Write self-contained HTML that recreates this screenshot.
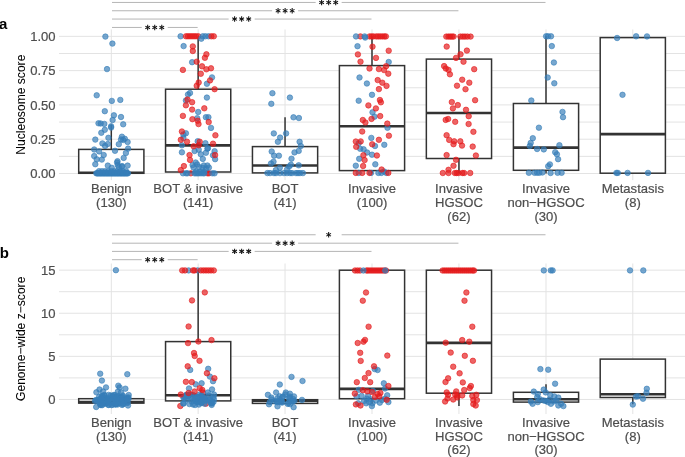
<!DOCTYPE html>
<html><head><meta charset="utf-8"><style>
html,body{margin:0;padding:0;background:#fff;}
body{width:685px;height:457px;overflow:hidden;position:relative;font-family:"Liberation Sans", sans-serif;}
svg text{font-family:"Liberation Sans", sans-serif;}
</style></head><body>
<svg width="685" height="457" viewBox="0 0 685 457" style="position:absolute;left:0;top:0;will-change:transform">
<line x1="59" y1="156.36" x2="685" y2="156.36" stroke="#e3e3e3" stroke-width="1"/>
<line x1="59" y1="122.07" x2="685" y2="122.07" stroke="#e3e3e3" stroke-width="1"/>
<line x1="59" y1="87.78" x2="685" y2="87.78" stroke="#e3e3e3" stroke-width="1"/>
<line x1="59" y1="53.49" x2="685" y2="53.49" stroke="#e3e3e3" stroke-width="1"/>
<line x1="59" y1="173.50" x2="685" y2="173.50" stroke="#e3e3e3" stroke-width="1"/>
<line x1="59" y1="139.21" x2="685" y2="139.21" stroke="#e3e3e3" stroke-width="1"/>
<line x1="59" y1="104.92" x2="685" y2="104.92" stroke="#e3e3e3" stroke-width="1"/>
<line x1="59" y1="70.64" x2="685" y2="70.64" stroke="#e3e3e3" stroke-width="1"/>
<line x1="59" y1="36.35" x2="685" y2="36.35" stroke="#e3e3e3" stroke-width="1"/>
<line x1="111.3" y1="29.45" x2="111.3" y2="180.15" stroke="#e3e3e3" stroke-width="1"/>
<line x1="198.15" y1="29.45" x2="198.15" y2="180.15" stroke="#e3e3e3" stroke-width="1"/>
<line x1="285.05" y1="29.45" x2="285.05" y2="180.15" stroke="#e3e3e3" stroke-width="1"/>
<line x1="372.0" y1="29.45" x2="372.0" y2="180.15" stroke="#e3e3e3" stroke-width="1"/>
<line x1="458.95" y1="29.45" x2="458.95" y2="180.15" stroke="#e3e3e3" stroke-width="1"/>
<line x1="546.0" y1="29.45" x2="546.0" y2="180.15" stroke="#e3e3e3" stroke-width="1"/>
<line x1="632.8" y1="29.45" x2="632.8" y2="180.15" stroke="#e3e3e3" stroke-width="1"/>
<text transform="translate(55.60,178.10) scale(1,1.04)" text-anchor="end" fill="#4d4d4d" stroke="#4d4d4d" stroke-width="0.2" font-size="13.05">0.00</text>
<text transform="translate(55.60,143.81) scale(1,1.04)" text-anchor="end" fill="#4d4d4d" stroke="#4d4d4d" stroke-width="0.2" font-size="13.05">0.25</text>
<text transform="translate(55.60,109.52) scale(1,1.04)" text-anchor="end" fill="#4d4d4d" stroke="#4d4d4d" stroke-width="0.2" font-size="13.05">0.50</text>
<text transform="translate(55.60,75.24) scale(1,1.04)" text-anchor="end" fill="#4d4d4d" stroke="#4d4d4d" stroke-width="0.2" font-size="13.05">0.75</text>
<text transform="translate(55.60,40.95) scale(1,1.04)" text-anchor="end" fill="#4d4d4d" stroke="#4d4d4d" stroke-width="0.2" font-size="13.05">1.00</text>
<line x1="111.3" y1="124.5" x2="111.3" y2="149.4" stroke="#333333" stroke-width="1.5"/>
<rect x="78.70" y="149.4" width="65.2" height="23.90" fill="#fff" stroke="#333333" stroke-width="1.5"/>
<line x1="78.70" y1="172.8" x2="143.90" y2="172.8" stroke="#333333" stroke-width="2.6"/>
<line x1="198.15" y1="36.35" x2="198.15" y2="89.2" stroke="#333333" stroke-width="1.5"/>
<line x1="198.15" y1="172.0" x2="198.15" y2="173.5" stroke="#333333" stroke-width="1.5"/>
<rect x="165.55" y="89.2" width="65.2" height="82.80" fill="#fff" stroke="#333333" stroke-width="1.5"/>
<line x1="165.55" y1="145.4" x2="230.75" y2="145.4" stroke="#333333" stroke-width="2.6"/>
<line x1="285.05" y1="117.2" x2="285.05" y2="146.6" stroke="#333333" stroke-width="1.5"/>
<line x1="285.05" y1="172.9" x2="285.05" y2="173.5" stroke="#333333" stroke-width="1.5"/>
<rect x="252.45" y="146.6" width="65.2" height="26.30" fill="#fff" stroke="#333333" stroke-width="1.5"/>
<line x1="252.45" y1="165.5" x2="317.65" y2="165.5" stroke="#333333" stroke-width="2.6"/>
<line x1="372.0" y1="36.35" x2="372.0" y2="65.6" stroke="#333333" stroke-width="1.5"/>
<line x1="372.0" y1="170.6" x2="372.0" y2="173.5" stroke="#333333" stroke-width="1.5"/>
<rect x="339.40" y="65.6" width="65.2" height="105.00" fill="#fff" stroke="#333333" stroke-width="1.5"/>
<line x1="339.40" y1="126.2" x2="404.60" y2="126.2" stroke="#333333" stroke-width="2.6"/>
<line x1="458.95" y1="36.35" x2="458.95" y2="59.1" stroke="#333333" stroke-width="1.5"/>
<line x1="458.95" y1="158.5" x2="458.95" y2="173.5" stroke="#333333" stroke-width="1.5"/>
<rect x="426.35" y="59.1" width="65.2" height="99.40" fill="#fff" stroke="#333333" stroke-width="1.5"/>
<line x1="426.35" y1="113.0" x2="491.55" y2="113.0" stroke="#333333" stroke-width="2.6"/>
<line x1="546.0" y1="36.35" x2="546.0" y2="103.5" stroke="#333333" stroke-width="1.5"/>
<line x1="546.0" y1="170.3" x2="546.0" y2="173.5" stroke="#333333" stroke-width="1.5"/>
<rect x="513.40" y="103.5" width="65.2" height="66.80" fill="#fff" stroke="#333333" stroke-width="1.5"/>
<line x1="513.40" y1="147.6" x2="578.60" y2="147.6" stroke="#333333" stroke-width="2.6"/>
<rect x="600.20" y="37.6" width="65.2" height="135.60" fill="#fff" stroke="#333333" stroke-width="1.5"/>
<line x1="600.20" y1="134.1" x2="665.40" y2="134.1" stroke="#333333" stroke-width="2.6"/>
<g fill="#e41a1c" fill-opacity="0.68" stroke="#e41a1c" stroke-opacity="0.68" stroke-width="0.9"><circle cx="190.8" cy="173.3" r="2.75"/><circle cx="207.5" cy="173.3" r="2.75"/><circle cx="209.0" cy="173.3" r="2.75"/></g>
<g fill="#377eb8" fill-opacity="0.68" stroke="#377eb8" stroke-opacity="0.68" stroke-width="0.9"><circle cx="105.4" cy="36.6" r="2.75"/><circle cx="112.4" cy="43.6" r="2.75"/><circle cx="107.0" cy="69.1" r="2.75"/><circle cx="96.7" cy="95.3" r="2.75"/><circle cx="111.8" cy="100.9" r="2.75"/><circle cx="120.3" cy="99.9" r="2.75"/><circle cx="104.8" cy="111.2" r="2.75"/><circle cx="113.9" cy="115.3" r="2.75"/><circle cx="121.0" cy="117.0" r="2.75"/><circle cx="112.6" cy="120.0" r="2.75"/><circle cx="98.5" cy="123.3" r="2.75"/><circle cx="100.7" cy="123.5" r="2.75"/><circle cx="104.3" cy="123.9" r="2.75"/><circle cx="123.2" cy="124.3" r="2.75"/><circle cx="111.1" cy="126.3" r="2.75"/><circle cx="111.1" cy="127.6" r="2.75"/><circle cx="104.8" cy="129.8" r="2.75"/><circle cx="101.3" cy="132.8" r="2.75"/><circle cx="108.4" cy="137.8" r="2.75"/><circle cx="95.3" cy="139.6" r="2.75"/><circle cx="121.9" cy="136.7" r="2.75"/><circle cx="121.0" cy="139.4" r="2.75"/><circle cx="123.2" cy="140.0" r="2.75"/><circle cx="124.8" cy="138.8" r="2.75"/><circle cx="127.6" cy="142.0" r="2.75"/><circle cx="118.8" cy="144.2" r="2.75"/><circle cx="102.4" cy="143.4" r="2.75"/><circle cx="105.1" cy="145.9" r="2.75"/><circle cx="107.8" cy="144.0" r="2.75"/><circle cx="94.2" cy="149.5" r="2.75"/><circle cx="99.1" cy="151.4" r="2.75"/><circle cx="115.0" cy="150.8" r="2.75"/><circle cx="128.1" cy="148.6" r="2.75"/><circle cx="125.9" cy="153.0" r="2.75"/><circle cx="94.2" cy="156.1" r="2.75"/><circle cx="103.7" cy="155.0" r="2.75"/><circle cx="96.7" cy="159.3" r="2.75"/><circle cx="101.8" cy="159.6" r="2.75"/><circle cx="123.7" cy="157.9" r="2.75"/><circle cx="117.5" cy="161.2" r="2.75"/><circle cx="95.3" cy="164.2" r="2.75"/><circle cx="107.8" cy="165.6" r="2.75"/><circle cx="111.7" cy="167.8" r="2.75"/><circle cx="117.7" cy="165.0" r="2.75"/><circle cx="122.1" cy="166.1" r="2.75"/><circle cx="127.6" cy="165.6" r="2.75"/><circle cx="118.8" cy="167.2" r="2.75"/><circle cx="117.1" cy="162.6" r="2.75"/><circle cx="121.9" cy="166.8" r="2.75"/><circle cx="96.3" cy="173.3" r="2.75"/><circle cx="97.1" cy="173.3" r="2.75"/><circle cx="97.8" cy="173.3" r="2.75"/><circle cx="98.6" cy="173.3" r="2.75"/><circle cx="99.4" cy="173.3" r="2.75"/><circle cx="100.2" cy="173.3" r="2.75"/><circle cx="100.9" cy="173.3" r="2.75"/><circle cx="101.7" cy="173.3" r="2.75"/><circle cx="102.5" cy="173.3" r="2.75"/><circle cx="103.3" cy="173.3" r="2.75"/><circle cx="104.0" cy="173.3" r="2.75"/><circle cx="104.8" cy="173.3" r="2.75"/><circle cx="105.6" cy="173.3" r="2.75"/><circle cx="106.4" cy="173.3" r="2.75"/><circle cx="107.1" cy="173.3" r="2.75"/><circle cx="107.9" cy="173.3" r="2.75"/><circle cx="108.7" cy="173.3" r="2.75"/><circle cx="109.4" cy="173.3" r="2.75"/><circle cx="110.2" cy="173.3" r="2.75"/><circle cx="111.0" cy="173.3" r="2.75"/><circle cx="111.8" cy="173.3" r="2.75"/><circle cx="112.5" cy="173.3" r="2.75"/><circle cx="113.3" cy="173.3" r="2.75"/><circle cx="114.1" cy="173.3" r="2.75"/><circle cx="114.9" cy="173.3" r="2.75"/><circle cx="115.6" cy="173.3" r="2.75"/><circle cx="116.4" cy="173.3" r="2.75"/><circle cx="117.2" cy="173.3" r="2.75"/><circle cx="117.9" cy="173.3" r="2.75"/><circle cx="118.7" cy="173.3" r="2.75"/><circle cx="119.5" cy="173.3" r="2.75"/><circle cx="120.3" cy="173.3" r="2.75"/><circle cx="121.0" cy="173.3" r="2.75"/><circle cx="121.8" cy="173.3" r="2.75"/><circle cx="122.6" cy="173.3" r="2.75"/><circle cx="123.4" cy="173.3" r="2.75"/><circle cx="124.1" cy="173.3" r="2.75"/><circle cx="124.9" cy="173.3" r="2.75"/><circle cx="125.7" cy="173.3" r="2.75"/><circle cx="126.5" cy="173.3" r="2.75"/><circle cx="127.2" cy="173.3" r="2.75"/><circle cx="128.0" cy="173.3" r="2.75"/><circle cx="99.0" cy="171.2" r="2.75"/><circle cx="102.0" cy="171.2" r="2.75"/><circle cx="105.0" cy="171.2" r="2.75"/><circle cx="108.0" cy="171.2" r="2.75"/><circle cx="111.0" cy="171.2" r="2.75"/><circle cx="114.0" cy="171.2" r="2.75"/><circle cx="117.0" cy="171.2" r="2.75"/><circle cx="120.0" cy="171.2" r="2.75"/><circle cx="123.0" cy="171.2" r="2.75"/><circle cx="126.0" cy="171.2" r="2.75"/><circle cx="180.6" cy="36.3" r="2.75"/><circle cx="208.5" cy="36.3" r="2.75"/><circle cx="183.6" cy="46.1" r="2.75"/><circle cx="192.1" cy="62.2" r="2.75"/><circle cx="212.0" cy="77.4" r="2.75"/><circle cx="206.9" cy="83.8" r="2.75"/><circle cx="190.0" cy="93.0" r="2.75"/><circle cx="188.0" cy="94.5" r="2.75"/><circle cx="206.9" cy="97.6" r="2.75"/><circle cx="185.9" cy="100.5" r="2.75"/><circle cx="198.2" cy="112.0" r="2.75"/><circle cx="197.2" cy="118.2" r="2.75"/><circle cx="205.9" cy="117.2" r="2.75"/><circle cx="208.4" cy="117.2" r="2.75"/><circle cx="211.0" cy="127.9" r="2.75"/><circle cx="185.9" cy="133.3" r="2.75"/><circle cx="183.4" cy="134.5" r="2.75"/><circle cx="183.4" cy="138.1" r="2.75"/><circle cx="181.9" cy="145.3" r="2.75"/><circle cx="197.7" cy="141.2" r="2.75"/><circle cx="205.4" cy="143.2" r="2.75"/><circle cx="207.9" cy="148.3" r="2.75"/><circle cx="181.9" cy="152.3" r="2.75"/><circle cx="194.6" cy="151.0" r="2.75"/><circle cx="198.7" cy="149.7" r="2.75"/><circle cx="207.4" cy="148.7" r="2.75"/><circle cx="205.9" cy="152.8" r="2.75"/><circle cx="200.8" cy="154.3" r="2.75"/><circle cx="214.6" cy="151.2" r="2.75"/><circle cx="213.0" cy="155.3" r="2.75"/><circle cx="215.1" cy="159.2" r="2.75"/><circle cx="202.8" cy="158.9" r="2.75"/><circle cx="195.7" cy="162.5" r="2.75"/><circle cx="192.6" cy="165.0" r="2.75"/><circle cx="197.2" cy="164.5" r="2.75"/><circle cx="203.8" cy="165.5" r="2.75"/><circle cx="207.4" cy="165.5" r="2.75"/><circle cx="208.9" cy="167.6" r="2.75"/><circle cx="183" cy="173.3" r="2.75"/><circle cx="186" cy="173.3" r="2.75"/><circle cx="187.5" cy="173.3" r="2.75"/><circle cx="194.5" cy="173.3" r="2.75"/><circle cx="196" cy="173.3" r="2.75"/><circle cx="197.5" cy="173.3" r="2.75"/><circle cx="199" cy="173.3" r="2.75"/><circle cx="201" cy="173.3" r="2.75"/><circle cx="203" cy="173.3" r="2.75"/><circle cx="204.3" cy="173.3" r="2.75"/><circle cx="212.3" cy="173.3" r="2.75"/><circle cx="214.5" cy="173.3" r="2.75"/><circle cx="196" cy="171.5" r="2.75"/><circle cx="200" cy="171.8" r="2.75"/><circle cx="204" cy="171.5" r="2.75"/><circle cx="193.5" cy="167.5" r="2.75"/><circle cx="199" cy="167.0" r="2.75"/><circle cx="202.5" cy="167.8" r="2.75"/><circle cx="206" cy="168.5" r="2.75"/><circle cx="272.4" cy="93.2" r="2.75"/><circle cx="289.9" cy="97.6" r="2.75"/><circle cx="271.3" cy="103.8" r="2.75"/><circle cx="293.5" cy="117.3" r="2.75"/><circle cx="298.9" cy="118.0" r="2.75"/><circle cx="273.8" cy="133.4" r="2.75"/><circle cx="286.1" cy="133.4" r="2.75"/><circle cx="280.1" cy="137.6" r="2.75"/><circle cx="277.9" cy="141.8" r="2.75"/><circle cx="299.6" cy="141.8" r="2.75"/><circle cx="300.8" cy="146.0" r="2.75"/><circle cx="271.7" cy="151.5" r="2.75"/><circle cx="298.7" cy="150.9" r="2.75"/><circle cx="294.5" cy="152.4" r="2.75"/><circle cx="274.1" cy="155.7" r="2.75"/><circle cx="278.9" cy="155.7" r="2.75"/><circle cx="291.5" cy="158.7" r="2.75"/><circle cx="273.5" cy="161.7" r="2.75"/><circle cx="271.0" cy="163.5" r="2.75"/><circle cx="290.9" cy="164.7" r="2.75"/><circle cx="289.1" cy="166.5" r="2.75"/><circle cx="298.7" cy="165.3" r="2.75"/><circle cx="279.8" cy="167.7" r="2.75"/><circle cx="275.9" cy="170.1" r="2.75"/><circle cx="287" cy="169.5" r="2.75"/><circle cx="267.4" cy="173.1" r="2.75"/><circle cx="270" cy="173.1" r="2.75"/><circle cx="274" cy="173.1" r="2.75"/><circle cx="276" cy="173.1" r="2.75"/><circle cx="280" cy="173.1" r="2.75"/><circle cx="284" cy="173.1" r="2.75"/><circle cx="287" cy="173.1" r="2.75"/><circle cx="290" cy="173.1" r="2.75"/><circle cx="292" cy="173.1" r="2.75"/><circle cx="296" cy="173.1" r="2.75"/><circle cx="298" cy="173.1" r="2.75"/><circle cx="300" cy="173.1" r="2.75"/><circle cx="302.9" cy="173.1" r="2.75"/><circle cx="357.5" cy="46.2" r="2.75"/><circle cx="388.7" cy="62.0" r="2.75"/><circle cx="359.5" cy="77.5" r="2.75"/><circle cx="366.9" cy="83.5" r="2.75"/><circle cx="372.0" cy="94.8" r="2.75"/><circle cx="358.7" cy="100.7" r="2.75"/><circle cx="372.5" cy="112.3" r="2.75"/><circle cx="374.5" cy="116.7" r="2.75"/><circle cx="387.5" cy="127.8" r="2.75"/><circle cx="371.3" cy="137.9" r="2.75"/><circle cx="358.7" cy="143.3" r="2.75"/><circle cx="384.3" cy="144.8" r="2.75"/><circle cx="375.0" cy="146.0" r="2.75"/><circle cx="360.2" cy="148.8" r="2.75"/><circle cx="363.6" cy="149.3" r="2.75"/><circle cx="367.1" cy="152.5" r="2.75"/><circle cx="372.0" cy="154.7" r="2.75"/><circle cx="359.2" cy="158.8" r="2.75"/><circle cx="355.8" cy="165.7" r="2.75"/><circle cx="375.3" cy="164.3" r="2.75"/><circle cx="358.7" cy="172.9" r="2.75"/><circle cx="371.0" cy="172.9" r="2.75"/><circle cx="378.4" cy="172.9" r="2.75"/><circle cx="381.4" cy="172.9" r="2.75"/><circle cx="386.3" cy="172.9" r="2.75"/><circle cx="384" cy="171.5" r="2.75"/><circle cx="546.1" cy="36.3" r="2.75"/><circle cx="548.0" cy="36.3" r="2.75"/><circle cx="551.0" cy="36.3" r="2.75"/><circle cx="551.8" cy="46.1" r="2.75"/><circle cx="553.9" cy="62.5" r="2.75"/><circle cx="547.7" cy="77.5" r="2.75"/><circle cx="554.3" cy="83.3" r="2.75"/><circle cx="531.3" cy="100.5" r="2.75"/><circle cx="562.5" cy="111.9" r="2.75"/><circle cx="563.0" cy="117.2" r="2.75"/><circle cx="538.9" cy="127.7" r="2.75"/><circle cx="532.8" cy="138.2" r="2.75"/><circle cx="530.7" cy="142.9" r="2.75"/><circle cx="529.8" cy="145.9" r="2.75"/><circle cx="559.4" cy="145.2" r="2.75"/><circle cx="537.1" cy="149.0" r="2.75"/><circle cx="543.8" cy="149.4" r="2.75"/><circle cx="555.2" cy="152.2" r="2.75"/><circle cx="556.9" cy="154.3" r="2.75"/><circle cx="558.1" cy="159.2" r="2.75"/><circle cx="549.9" cy="164.4" r="2.75"/><circle cx="548.2" cy="166.2" r="2.75"/><circle cx="528.9" cy="172.8" r="2.75"/><circle cx="534.5" cy="172.8" r="2.75"/><circle cx="537.1" cy="172.8" r="2.75"/><circle cx="539.4" cy="172.8" r="2.75"/><circle cx="542.4" cy="172.5" r="2.75"/><circle cx="550.6" cy="173.0" r="2.75"/><circle cx="557.6" cy="172.8" r="2.75"/><circle cx="561.6" cy="172.8" r="2.75"/><circle cx="617.1" cy="38.0" r="2.75"/><circle cx="636.1" cy="36.3" r="2.75"/><circle cx="647.0" cy="36.4" r="2.75"/><circle cx="622.5" cy="94.8" r="2.75"/><circle cx="616.4" cy="172.9" r="2.75"/><circle cx="617.8" cy="172.9" r="2.75"/><circle cx="627.6" cy="172.9" r="2.75"/><circle cx="648.0" cy="172.9" r="2.75"/></g>
<g fill="#e41a1c" fill-opacity="0.68" stroke="#e41a1c" stroke-opacity="0.68" stroke-width="0.9"><circle cx="186" cy="36.3" r="2.75"/><circle cx="188" cy="36.3" r="2.75"/><circle cx="190" cy="36.3" r="2.75"/><circle cx="192" cy="36.3" r="2.75"/><circle cx="194" cy="36.3" r="2.75"/><circle cx="196" cy="36.3" r="2.75"/><circle cx="198.3" cy="36.3" r="2.75"/><circle cx="211.3" cy="36.3" r="2.75"/><circle cx="213.8" cy="36.3" r="2.75"/><circle cx="192.8" cy="46.4" r="2.75"/><circle cx="192.8" cy="51.0" r="2.75"/><circle cx="206.4" cy="54.3" r="2.75"/><circle cx="204.9" cy="57.8" r="2.75"/><circle cx="196.7" cy="61.7" r="2.75"/><circle cx="182.9" cy="69.9" r="2.75"/><circle cx="202.0" cy="66.3" r="2.75"/><circle cx="206.4" cy="69.3" r="2.75"/><circle cx="211.0" cy="68.3" r="2.75"/><circle cx="200.8" cy="73.8" r="2.75"/><circle cx="210.0" cy="80.4" r="2.75"/><circle cx="198.7" cy="82.5" r="2.75"/><circle cx="196.7" cy="85.8" r="2.75"/><circle cx="214.6" cy="89.2" r="2.75"/><circle cx="187.5" cy="99.6" r="2.75"/><circle cx="192.1" cy="102.2" r="2.75"/><circle cx="185.9" cy="105.3" r="2.75"/><circle cx="192.1" cy="109.6" r="2.75"/><circle cx="204.3" cy="108.3" r="2.75"/><circle cx="182.9" cy="115.9" r="2.75"/><circle cx="192.4" cy="119.2" r="2.75"/><circle cx="198.5" cy="124.1" r="2.75"/><circle cx="197.7" cy="120.7" r="2.75"/><circle cx="208.7" cy="122.1" r="2.75"/><circle cx="181.9" cy="131.5" r="2.75"/><circle cx="215.4" cy="135.3" r="2.75"/><circle cx="180.8" cy="139.8" r="2.75"/><circle cx="187.0" cy="141.7" r="2.75"/><circle cx="199.7" cy="141.7" r="2.75"/><circle cx="198.7" cy="145.3" r="2.75"/><circle cx="193.6" cy="146.3" r="2.75"/><circle cx="213.0" cy="143.7" r="2.75"/><circle cx="215.1" cy="155.1" r="2.75"/><circle cx="189.5" cy="155.1" r="2.75"/><circle cx="190.0" cy="159.9" r="2.75"/><circle cx="183.9" cy="166.1" r="2.75"/><circle cx="180.8" cy="170.1" r="2.75"/><circle cx="360.4" cy="36.4" r="2.75"/><circle cx="369.6" cy="36.4" r="2.75"/><circle cx="371.6" cy="36.4" r="2.75"/><circle cx="373.4" cy="36.4" r="2.75"/><circle cx="376.2" cy="36.4" r="2.75"/><circle cx="378.2" cy="36.4" r="2.75"/><circle cx="380.2" cy="36.4" r="2.75"/><circle cx="382.3" cy="36.4" r="2.75"/><circle cx="384.3" cy="36.4" r="2.75"/><circle cx="385.9" cy="36.4" r="2.75"/><circle cx="372.5" cy="46.7" r="2.75"/><circle cx="388.7" cy="50.7" r="2.75"/><circle cx="357.9" cy="54.4" r="2.75"/><circle cx="376.0" cy="57.9" r="2.75"/><circle cx="360.5" cy="61.7" r="2.75"/><circle cx="386.1" cy="66.2" r="2.75"/><circle cx="369.5" cy="68.5" r="2.75"/><circle cx="378.9" cy="69.1" r="2.75"/><circle cx="384.1" cy="70.1" r="2.75"/><circle cx="388.3" cy="73.7" r="2.75"/><circle cx="377.7" cy="80.1" r="2.75"/><circle cx="382.3" cy="82.7" r="2.75"/><circle cx="386.5" cy="85.9" r="2.75"/><circle cx="378.9" cy="89.1" r="2.75"/><circle cx="379.9" cy="100.0" r="2.75"/><circle cx="380.9" cy="102.3" r="2.75"/><circle cx="368.4" cy="105.4" r="2.75"/><circle cx="375.9" cy="108.4" r="2.75"/><circle cx="380.2" cy="116.1" r="2.75"/><circle cx="371.5" cy="118.9" r="2.75"/><circle cx="362.8" cy="120.0" r="2.75"/><circle cx="365.4" cy="122.5" r="2.75"/><circle cx="387.3" cy="123.6" r="2.75"/><circle cx="362.2" cy="131.5" r="2.75"/><circle cx="388.9" cy="135.7" r="2.75"/><circle cx="378.9" cy="139.8" r="2.75"/><circle cx="355.8" cy="141.5" r="2.75"/><circle cx="360.7" cy="141.4" r="2.75"/><circle cx="372.2" cy="144.3" r="2.75"/><circle cx="356.2" cy="146.8" r="2.75"/><circle cx="363.4" cy="155.2" r="2.75"/><circle cx="376.9" cy="155.5" r="2.75"/><circle cx="364.6" cy="160.1" r="2.75"/><circle cx="363.1" cy="166.0" r="2.75"/><circle cx="381.6" cy="169.5" r="2.75"/><circle cx="355.8" cy="172.9" r="2.75"/><circle cx="362.2" cy="172.9" r="2.75"/><circle cx="369.5" cy="172.9" r="2.75"/><circle cx="388.3" cy="172.9" r="2.75"/><circle cx="446.3" cy="36.6" r="2.75"/><circle cx="448.5" cy="36.6" r="2.75"/><circle cx="450.3" cy="36.6" r="2.75"/><circle cx="452.0" cy="36.6" r="2.75"/><circle cx="453.6" cy="36.6" r="2.75"/><circle cx="460.4" cy="36.6" r="2.75"/><circle cx="462.8" cy="36.6" r="2.75"/><circle cx="465.0" cy="36.6" r="2.75"/><circle cx="467.5" cy="36.6" r="2.75"/><circle cx="470.6" cy="36.6" r="2.75"/><circle cx="446.7" cy="46.6" r="2.75"/><circle cx="466.9" cy="50.6" r="2.75"/><circle cx="460.5" cy="54.3" r="2.75"/><circle cx="456.0" cy="57.9" r="2.75"/><circle cx="463.5" cy="61.7" r="2.75"/><circle cx="444.1" cy="66.1" r="2.75"/><circle cx="445.8" cy="68.5" r="2.75"/><circle cx="448.5" cy="69.9" r="2.75"/><circle cx="449.9" cy="74.3" r="2.75"/><circle cx="474.2" cy="69.2" r="2.75"/><circle cx="462.2" cy="79.7" r="2.75"/><circle cx="469.3" cy="82.7" r="2.75"/><circle cx="457.0" cy="85.7" r="2.75"/><circle cx="465.5" cy="89.2" r="2.75"/><circle cx="475.1" cy="100.2" r="2.75"/><circle cx="451.8" cy="102.1" r="2.75"/><circle cx="457.8" cy="105.1" r="2.75"/><circle cx="452.9" cy="108.4" r="2.75"/><circle cx="466.0" cy="109.8" r="2.75"/><circle cx="468.7" cy="116.2" r="2.75"/><circle cx="445.7" cy="119.9" r="2.75"/><circle cx="448.1" cy="119.0" r="2.75"/><circle cx="455.2" cy="121.8" r="2.75"/><circle cx="468.6" cy="124.0" r="2.75"/><circle cx="473.4" cy="131.8" r="2.75"/><circle cx="446.6" cy="135.2" r="2.75"/><circle cx="449.2" cy="139.9" r="2.75"/><circle cx="454.2" cy="141.3" r="2.75"/><circle cx="453.5" cy="144.2" r="2.75"/><circle cx="460.3" cy="141.3" r="2.75"/><circle cx="462.0" cy="145.6" r="2.75"/><circle cx="472.7" cy="146.6" r="2.75"/><circle cx="446.6" cy="155.1" r="2.75"/><circle cx="475.9" cy="155.5" r="2.75"/><circle cx="456.0" cy="159.8" r="2.75"/><circle cx="453.5" cy="165.8" r="2.75"/><circle cx="448.5" cy="169.8" r="2.75"/><circle cx="442.8" cy="173.0" r="2.75"/><circle cx="448.5" cy="173.0" r="2.75"/><circle cx="454.9" cy="173.0" r="2.75"/><circle cx="456.6" cy="173.0" r="2.75"/><circle cx="458.4" cy="173.0" r="2.75"/><circle cx="462.3" cy="173.0" r="2.75"/><circle cx="464.1" cy="173.0" r="2.75"/><circle cx="470.2" cy="173.0" r="2.75"/></g>
<g fill="#377eb8" fill-opacity="0.68" stroke="#377eb8" stroke-opacity="0.68" stroke-width="0.9"><circle cx="202.8" cy="36.3" r="2.75"/><circle cx="205.4" cy="36.3" r="2.75"/><circle cx="201.3" cy="38.7" r="2.75"/><circle cx="356.0" cy="36.4" r="2.75"/><circle cx="364.6" cy="36.4" r="2.75"/><circle cx="365.2" cy="37.6" r="2.75"/></g>
<line x1="112.0" y1="2.45" x2="315.65" y2="2.45" stroke="#b5b5b5" stroke-width="1"/>
<line x1="341.65" y1="2.45" x2="545.5" y2="2.45" stroke="#b5b5b5" stroke-width="1"/>
<g stroke="#111" stroke-width="1.05" stroke-linecap="butt"><line x1="321.60" y1="-0.25" x2="321.60" y2="5.15"/><line x1="319.26" y1="1.10" x2="323.94" y2="3.80"/><line x1="323.94" y1="1.10" x2="319.26" y2="3.80"/><line x1="328.65" y1="-0.25" x2="328.65" y2="5.15"/><line x1="326.31" y1="1.10" x2="330.99" y2="3.80"/><line x1="330.99" y1="1.10" x2="326.31" y2="3.80"/><line x1="335.70" y1="-0.25" x2="335.70" y2="5.15"/><line x1="333.36" y1="1.10" x2="338.04" y2="3.80"/><line x1="338.04" y1="1.10" x2="333.36" y2="3.80"/></g>
<line x1="112.0" y1="10.75" x2="272.12" y2="10.75" stroke="#b5b5b5" stroke-width="1"/>
<line x1="298.12" y1="10.75" x2="458.45" y2="10.75" stroke="#b5b5b5" stroke-width="1"/>
<g stroke="#111" stroke-width="1.05" stroke-linecap="butt"><line x1="278.07" y1="8.05" x2="278.07" y2="13.45"/><line x1="275.74" y1="9.40" x2="280.41" y2="12.10"/><line x1="280.41" y1="9.40" x2="275.74" y2="12.10"/><line x1="285.12" y1="8.05" x2="285.12" y2="13.45"/><line x1="282.79" y1="9.40" x2="287.46" y2="12.10"/><line x1="287.46" y1="9.40" x2="282.79" y2="12.10"/><line x1="292.18" y1="8.05" x2="292.18" y2="13.45"/><line x1="289.84" y1="9.40" x2="294.51" y2="12.10"/><line x1="294.51" y1="9.40" x2="289.84" y2="12.10"/></g>
<line x1="112.0" y1="19.05" x2="228.65" y2="19.05" stroke="#b5b5b5" stroke-width="1"/>
<line x1="254.65" y1="19.05" x2="371.5" y2="19.05" stroke="#b5b5b5" stroke-width="1"/>
<g stroke="#111" stroke-width="1.05" stroke-linecap="butt"><line x1="234.60" y1="16.35" x2="234.60" y2="21.75"/><line x1="232.26" y1="17.70" x2="236.94" y2="20.40"/><line x1="236.94" y1="17.70" x2="232.26" y2="20.40"/><line x1="241.65" y1="16.35" x2="241.65" y2="21.75"/><line x1="239.31" y1="17.70" x2="243.99" y2="20.40"/><line x1="243.99" y1="17.70" x2="239.31" y2="20.40"/><line x1="248.70" y1="16.35" x2="248.70" y2="21.75"/><line x1="246.36" y1="17.70" x2="251.04" y2="20.40"/><line x1="251.04" y1="17.70" x2="246.36" y2="20.40"/></g>
<line x1="112.0" y1="27.45" x2="141.72" y2="27.45" stroke="#b5b5b5" stroke-width="1"/>
<line x1="167.72" y1="27.45" x2="197.65" y2="27.45" stroke="#b5b5b5" stroke-width="1"/>
<g stroke="#111" stroke-width="1.05" stroke-linecap="butt"><line x1="147.67" y1="24.75" x2="147.67" y2="30.15"/><line x1="145.34" y1="26.10" x2="150.01" y2="28.80"/><line x1="150.01" y1="26.10" x2="145.34" y2="28.80"/><line x1="154.72" y1="24.75" x2="154.72" y2="30.15"/><line x1="152.39" y1="26.10" x2="157.06" y2="28.80"/><line x1="157.06" y1="26.10" x2="152.39" y2="28.80"/><line x1="161.78" y1="24.75" x2="161.78" y2="30.15"/><line x1="159.44" y1="26.10" x2="164.11" y2="28.80"/><line x1="164.11" y1="26.10" x2="159.44" y2="28.80"/></g>
<text transform="translate(111.30,192.60) scale(1,1.04)" text-anchor="middle" fill="#4d4d4d" stroke="#4d4d4d" stroke-width="0.2" font-size="13.05">Benign</text>
<text transform="translate(111.30,206.90) scale(1,1.04)" text-anchor="middle" fill="#4d4d4d" stroke="#4d4d4d" stroke-width="0.2" font-size="13.05">(130)</text>
<text transform="translate(198.15,192.60) scale(1,1.04)" text-anchor="middle" fill="#4d4d4d" stroke="#4d4d4d" stroke-width="0.2" font-size="13.05">BOT &amp; invasive</text>
<text transform="translate(198.15,206.90) scale(1,1.04)" text-anchor="middle" fill="#4d4d4d" stroke="#4d4d4d" stroke-width="0.2" font-size="13.05">(141)</text>
<text transform="translate(285.05,192.60) scale(1,1.04)" text-anchor="middle" fill="#4d4d4d" stroke="#4d4d4d" stroke-width="0.2" font-size="13.05">BOT</text>
<text transform="translate(285.05,206.90) scale(1,1.04)" text-anchor="middle" fill="#4d4d4d" stroke="#4d4d4d" stroke-width="0.2" font-size="13.05">(41)</text>
<text transform="translate(372.00,192.60) scale(1,1.04)" text-anchor="middle" fill="#4d4d4d" stroke="#4d4d4d" stroke-width="0.2" font-size="13.05">Invasive</text>
<text transform="translate(372.00,206.90) scale(1,1.04)" text-anchor="middle" fill="#4d4d4d" stroke="#4d4d4d" stroke-width="0.2" font-size="13.05">(100)</text>
<text transform="translate(458.95,192.60) scale(1,1.04)" text-anchor="middle" fill="#4d4d4d" stroke="#4d4d4d" stroke-width="0.2" font-size="13.05">Invasive</text>
<text transform="translate(458.95,206.90) scale(1,1.04)" text-anchor="middle" fill="#4d4d4d" stroke="#4d4d4d" stroke-width="0.2" font-size="13.05">HGSOC</text>
<text transform="translate(458.95,221.20) scale(1,1.04)" text-anchor="middle" fill="#4d4d4d" stroke="#4d4d4d" stroke-width="0.2" font-size="13.05">(62)</text>
<text transform="translate(546.00,192.60) scale(1,1.04)" text-anchor="middle" fill="#4d4d4d" stroke="#4d4d4d" stroke-width="0.2" font-size="13.05">Invasive</text>
<text transform="translate(546.00,206.90) scale(1,1.04)" text-anchor="middle" fill="#4d4d4d" stroke="#4d4d4d" stroke-width="0.2" font-size="13.05">non−HGSOC</text>
<text transform="translate(546.00,221.20) scale(1,1.04)" text-anchor="middle" fill="#4d4d4d" stroke="#4d4d4d" stroke-width="0.2" font-size="13.05">(30)</text>
<text transform="translate(632.80,192.60) scale(1,1.04)" text-anchor="middle" fill="#4d4d4d" stroke="#4d4d4d" stroke-width="0.2" font-size="13.05">Metastasis</text>
<text transform="translate(632.80,206.90) scale(1,1.04)" text-anchor="middle" fill="#4d4d4d" stroke="#4d4d4d" stroke-width="0.2" font-size="13.05">(8)</text>
<text transform="translate(24.75,104.70) rotate(-90) scale(1,1.0)" text-anchor="middle" fill="#000" stroke="#000" stroke-width="0.05" font-size="12.1">Nucleosome score</text>
<text x="-1.0" y="28.5" fill="#000" font-size="15" font-weight="bold">a</text>
<line x1="59" y1="377.90" x2="685" y2="377.90" stroke="#e3e3e3" stroke-width="1"/>
<line x1="59" y1="334.80" x2="685" y2="334.80" stroke="#e3e3e3" stroke-width="1"/>
<line x1="59" y1="291.70" x2="685" y2="291.70" stroke="#e3e3e3" stroke-width="1"/>
<line x1="59" y1="399.45" x2="685" y2="399.45" stroke="#e3e3e3" stroke-width="1"/>
<line x1="59" y1="356.35" x2="685" y2="356.35" stroke="#e3e3e3" stroke-width="1"/>
<line x1="59" y1="313.25" x2="685" y2="313.25" stroke="#e3e3e3" stroke-width="1"/>
<line x1="59" y1="270.15" x2="685" y2="270.15" stroke="#e3e3e3" stroke-width="1"/>
<line x1="111.3" y1="263.5" x2="111.3" y2="414.0" stroke="#e3e3e3" stroke-width="1"/>
<line x1="198.15" y1="263.5" x2="198.15" y2="414.0" stroke="#e3e3e3" stroke-width="1"/>
<line x1="285.05" y1="263.5" x2="285.05" y2="414.0" stroke="#e3e3e3" stroke-width="1"/>
<line x1="372.0" y1="263.5" x2="372.0" y2="414.0" stroke="#e3e3e3" stroke-width="1"/>
<line x1="458.95" y1="263.5" x2="458.95" y2="414.0" stroke="#e3e3e3" stroke-width="1"/>
<line x1="546.0" y1="263.5" x2="546.0" y2="414.0" stroke="#e3e3e3" stroke-width="1"/>
<line x1="632.8" y1="263.5" x2="632.8" y2="414.0" stroke="#e3e3e3" stroke-width="1"/>
<text transform="translate(55.60,404.05) scale(1,1.04)" text-anchor="end" fill="#4d4d4d" stroke="#4d4d4d" stroke-width="0.2" font-size="13.05">0</text>
<text transform="translate(55.60,360.95) scale(1,1.04)" text-anchor="end" fill="#4d4d4d" stroke="#4d4d4d" stroke-width="0.2" font-size="13.05">5</text>
<text transform="translate(55.60,317.85) scale(1,1.04)" text-anchor="end" fill="#4d4d4d" stroke="#4d4d4d" stroke-width="0.2" font-size="13.05">10</text>
<text transform="translate(55.60,274.75) scale(1,1.04)" text-anchor="end" fill="#4d4d4d" stroke="#4d4d4d" stroke-width="0.2" font-size="13.05">15</text>
<rect x="78.70" y="398.7" width="65.2" height="4.40" fill="#fff" stroke="#333333" stroke-width="1.5"/>
<line x1="78.70" y1="402.0" x2="143.90" y2="402.0" stroke="#333333" stroke-width="2.6"/>
<line x1="198.15" y1="270.2" x2="198.15" y2="341.6" stroke="#333333" stroke-width="1.5"/>
<line x1="198.15" y1="400.9" x2="198.15" y2="404.0" stroke="#333333" stroke-width="1.5"/>
<rect x="165.55" y="341.6" width="65.2" height="59.30" fill="#fff" stroke="#333333" stroke-width="1.5"/>
<line x1="165.55" y1="395.2" x2="230.75" y2="395.2" stroke="#333333" stroke-width="2.6"/>
<rect x="252.45" y="399.7" width="65.2" height="3.70" fill="#fff" stroke="#333333" stroke-width="1.5"/>
<line x1="252.45" y1="400.6" x2="317.65" y2="400.6" stroke="#333333" stroke-width="2.6"/>
<line x1="372.0" y1="398.7" x2="372.0" y2="404.0" stroke="#333333" stroke-width="1.5"/>
<rect x="339.40" y="270.2" width="65.2" height="128.50" fill="#fff" stroke="#333333" stroke-width="1.5"/>
<line x1="339.40" y1="388.9" x2="404.60" y2="388.9" stroke="#333333" stroke-width="2.6"/>
<line x1="458.95" y1="393.2" x2="458.95" y2="406.0" stroke="#333333" stroke-width="1.5"/>
<rect x="426.35" y="270.2" width="65.2" height="123.00" fill="#fff" stroke="#333333" stroke-width="1.5"/>
<line x1="426.35" y1="342.9" x2="491.55" y2="342.9" stroke="#333333" stroke-width="2.6"/>
<line x1="546.0" y1="384.3" x2="546.0" y2="392.3" stroke="#333333" stroke-width="1.5"/>
<line x1="546.0" y1="402.1" x2="546.0" y2="404.0" stroke="#333333" stroke-width="1.5"/>
<rect x="513.40" y="392.3" width="65.2" height="9.80" fill="#fff" stroke="#333333" stroke-width="1.5"/>
<line x1="513.40" y1="399.3" x2="578.60" y2="399.3" stroke="#333333" stroke-width="2.6"/>
<line x1="632.8" y1="397.5" x2="632.8" y2="404.3" stroke="#333333" stroke-width="1.5"/>
<rect x="600.20" y="359.1" width="65.2" height="38.40" fill="#fff" stroke="#333333" stroke-width="1.5"/>
<line x1="600.20" y1="394.3" x2="665.40" y2="394.3" stroke="#333333" stroke-width="2.6"/>
<g fill="#e41a1c" fill-opacity="0.68" stroke="#e41a1c" stroke-opacity="0.68" stroke-width="0.9"><circle cx="180.3" cy="406.0" r="2.75"/><circle cx="205.9" cy="403.7" r="2.75"/><circle cx="190.5" cy="394.5" r="2.75"/><circle cx="203" cy="392.5" r="2.75"/><circle cx="186" cy="396" r="2.75"/></g>
<g fill="#377eb8" fill-opacity="0.68" stroke="#377eb8" stroke-opacity="0.68" stroke-width="0.9"><circle cx="115.9" cy="270.2" r="2.75"/><circle cx="100.2" cy="373.7" r="2.75"/><circle cx="127.3" cy="374.2" r="2.75"/><circle cx="101.9" cy="380.6" r="2.75"/><circle cx="106.0" cy="387.4" r="2.75"/><circle cx="118.3" cy="385.7" r="2.75"/><circle cx="119.6" cy="387.4" r="2.75"/><circle cx="125.4" cy="388.7" r="2.75"/><circle cx="99.5" cy="389.5" r="2.75"/><circle cx="96.4" cy="392.3" r="2.75"/><circle cx="117.8" cy="391.7" r="2.75"/><circle cx="128.7" cy="395.0" r="2.75"/><circle cx="103" cy="391.5" r="2.75"/><circle cx="121" cy="392.5" r="2.75"/><circle cx="112.4" cy="404.8" r="2.75"/><circle cx="100.3" cy="404.8" r="2.75"/><circle cx="105.8" cy="399.2" r="2.75"/><circle cx="122.8" cy="399.1" r="2.75"/><circle cx="113.6" cy="395.1" r="2.75"/><circle cx="120.4" cy="400.5" r="2.75"/><circle cx="106.4" cy="403.1" r="2.75"/><circle cx="105.5" cy="399.6" r="2.75"/><circle cx="99.9" cy="399.0" r="2.75"/><circle cx="102.2" cy="397.6" r="2.75"/><circle cx="120.3" cy="397.7" r="2.75"/><circle cx="111.5" cy="405.1" r="2.75"/><circle cx="127.2" cy="402.4" r="2.75"/><circle cx="113.4" cy="397.7" r="2.75"/><circle cx="100.8" cy="405.0" r="2.75"/><circle cx="112.5" cy="396.0" r="2.75"/><circle cx="116.1" cy="403.0" r="2.75"/><circle cx="115.7" cy="404.4" r="2.75"/><circle cx="96.8" cy="400.4" r="2.75"/><circle cx="110.7" cy="395.5" r="2.75"/><circle cx="116.7" cy="403.8" r="2.75"/><circle cx="115.1" cy="397.5" r="2.75"/><circle cx="123.2" cy="400.1" r="2.75"/><circle cx="112.4" cy="402.7" r="2.75"/><circle cx="100.4" cy="403.4" r="2.75"/><circle cx="118.0" cy="403.1" r="2.75"/><circle cx="101.8" cy="403.2" r="2.75"/><circle cx="101.8" cy="395.7" r="2.75"/><circle cx="123.7" cy="403.8" r="2.75"/><circle cx="124.4" cy="399.8" r="2.75"/><circle cx="104.5" cy="394.9" r="2.75"/><circle cx="116.8" cy="402.4" r="2.75"/><circle cx="123.1" cy="397.8" r="2.75"/><circle cx="102.6" cy="401.5" r="2.75"/><circle cx="122.1" cy="404.9" r="2.75"/><circle cx="100.5" cy="399.9" r="2.75"/><circle cx="125.0" cy="399.2" r="2.75"/><circle cx="115.0" cy="395.1" r="2.75"/><circle cx="117.7" cy="404.5" r="2.75"/><circle cx="122.8" cy="404.1" r="2.75"/><circle cx="117.3" cy="397.4" r="2.75"/><circle cx="120.9" cy="397.0" r="2.75"/><circle cx="122.9" cy="395.5" r="2.75"/><circle cx="122.7" cy="396.5" r="2.75"/><circle cx="107.9" cy="398.1" r="2.75"/><circle cx="118.3" cy="396.7" r="2.75"/><circle cx="108.6" cy="394.9" r="2.75"/><circle cx="104.2" cy="399.2" r="2.75"/><circle cx="99.0" cy="401.4" r="2.75"/><circle cx="108.1" cy="402.4" r="2.75"/><circle cx="117.1" cy="399.3" r="2.75"/><circle cx="124.1" cy="401.4" r="2.75"/><circle cx="122.2" cy="398.4" r="2.75"/><circle cx="113.4" cy="396.9" r="2.75"/><circle cx="128.4" cy="397.4" r="2.75"/><circle cx="104.0" cy="395.6" r="2.75"/><circle cx="104.0" cy="402.8" r="2.75"/><circle cx="118.5" cy="396.2" r="2.75"/><circle cx="107.9" cy="399.2" r="2.75"/><circle cx="117.4" cy="399.6" r="2.75"/><circle cx="114.9" cy="403.6" r="2.75"/><circle cx="119.5" cy="398.6" r="2.75"/><circle cx="110.3" cy="398.7" r="2.75"/><circle cx="99.1" cy="396.9" r="2.75"/><circle cx="104.9" cy="398.1" r="2.75"/><circle cx="105.8" cy="400.9" r="2.75"/><circle cx="127.6" cy="402.9" r="2.75"/><circle cx="121.6" cy="402.8" r="2.75"/><circle cx="115.2" cy="404.4" r="2.75"/><circle cx="118.3" cy="400.1" r="2.75"/><circle cx="98.0" cy="399.9" r="2.75"/><circle cx="102.5" cy="396.2" r="2.75"/><circle cx="112.2" cy="403.0" r="2.75"/><circle cx="105.2" cy="402.9" r="2.75"/><circle cx="112.8" cy="396.4" r="2.75"/><circle cx="127.3" cy="399.0" r="2.75"/><circle cx="105.2" cy="403.7" r="2.75"/><circle cx="99.6" cy="402.5" r="2.75"/><circle cx="101.7" cy="398.9" r="2.75"/><circle cx="103.2" cy="403.6" r="2.75"/><circle cx="108.4" cy="405.0" r="2.75"/><circle cx="116.1" cy="402.1" r="2.75"/><circle cx="112.7" cy="398.0" r="2.75"/><circle cx="108.6" cy="404.7" r="2.75"/><circle cx="102.1" cy="405.2" r="2.75"/><circle cx="120.5" cy="398.6" r="2.75"/><circle cx="116.7" cy="398.8" r="2.75"/><circle cx="108.1" cy="400.1" r="2.75"/><circle cx="96.1" cy="400.0" r="2.75"/><circle cx="127.6" cy="397.8" r="2.75"/><circle cx="96.2" cy="407.0" r="2.75"/><circle cx="128.0" cy="405.5" r="2.75"/><circle cx="95" cy="401" r="2.75"/><circle cx="128.5" cy="399" r="2.75"/><circle cx="188.6" cy="270.4" r="2.75"/><circle cx="197.7" cy="270.4" r="2.75"/><circle cx="190.2" cy="369.9" r="2.75"/><circle cx="208.2" cy="368.8" r="2.75"/><circle cx="209.9" cy="376.6" r="2.75"/><circle cx="213.0" cy="381.2" r="2.75"/><circle cx="195.7" cy="384.3" r="2.75"/><circle cx="201.6" cy="383.3" r="2.75"/><circle cx="189.0" cy="388.4" r="2.75"/><circle cx="212.0" cy="389.4" r="2.75"/><circle cx="207.9" cy="392.5" r="2.75"/><circle cx="214.0" cy="394.5" r="2.75"/><circle cx="191.2" cy="397.7" r="2.75"/><circle cx="208.6" cy="395.5" r="2.75"/><circle cx="201.9" cy="402.4" r="2.75"/><circle cx="188.9" cy="395.1" r="2.75"/><circle cx="191.7" cy="401.6" r="2.75"/><circle cx="200.7" cy="396.1" r="2.75"/><circle cx="196.6" cy="401.7" r="2.75"/><circle cx="196.3" cy="401.3" r="2.75"/><circle cx="213.5" cy="401.9" r="2.75"/><circle cx="195.3" cy="396.5" r="2.75"/><circle cx="193.9" cy="400.0" r="2.75"/><circle cx="211.1" cy="402.9" r="2.75"/><circle cx="193.0" cy="404.5" r="2.75"/><circle cx="197.8" cy="402.0" r="2.75"/><circle cx="186.4" cy="395.6" r="2.75"/><circle cx="189.4" cy="404.1" r="2.75"/><circle cx="204.4" cy="403.7" r="2.75"/><circle cx="203.3" cy="398.9" r="2.75"/><circle cx="199.3" cy="400.9" r="2.75"/><circle cx="210.2" cy="399.2" r="2.75"/><circle cx="211.1" cy="401.1" r="2.75"/><circle cx="209.1" cy="399.9" r="2.75"/><circle cx="204.8" cy="398.2" r="2.75"/><circle cx="199.5" cy="396.8" r="2.75"/><circle cx="186.2" cy="394.9" r="2.75"/><circle cx="205.1" cy="399.4" r="2.75"/><circle cx="211.3" cy="403.5" r="2.75"/><circle cx="195.1" cy="405.0" r="2.75"/><circle cx="201.6" cy="402.8" r="2.75"/><circle cx="195.8" cy="396.6" r="2.75"/><circle cx="188.4" cy="396.5" r="2.75"/><circle cx="202.0" cy="395.7" r="2.75"/><circle cx="183.6" cy="403.5" r="2.75"/><circle cx="186.1" cy="399.4" r="2.75"/><circle cx="198.4" cy="401.2" r="2.75"/><circle cx="198.9" cy="404.6" r="2.75"/><circle cx="206.6" cy="400.7" r="2.75"/><circle cx="202.4" cy="400.0" r="2.75"/><circle cx="213.4" cy="396.9" r="2.75"/><circle cx="204.7" cy="400.5" r="2.75"/><circle cx="184.3" cy="397.7" r="2.75"/><circle cx="212.2" cy="403.0" r="2.75"/><circle cx="183.4" cy="397.7" r="2.75"/><circle cx="183.3" cy="403.4" r="2.75"/><circle cx="186.5" cy="395.1" r="2.75"/><circle cx="213.9" cy="399.3" r="2.75"/><circle cx="193.0" cy="395.0" r="2.75"/><circle cx="195.3" cy="398.5" r="2.75"/><circle cx="199.5" cy="394.6" r="2.75"/><circle cx="187.7" cy="396.8" r="2.75"/><circle cx="196.9" cy="397.8" r="2.75"/><circle cx="202.3" cy="397.6" r="2.75"/><circle cx="211.7" cy="404.9" r="2.75"/><circle cx="184.9" cy="396.8" r="2.75"/><circle cx="200.7" cy="402.8" r="2.75"/><circle cx="291.5" cy="376.9" r="2.75"/><circle cx="302.5" cy="381.0" r="2.75"/><circle cx="279.8" cy="384.5" r="2.75"/><circle cx="276.1" cy="392.5" r="2.75"/><circle cx="267.9" cy="394.8" r="2.75"/><circle cx="285.8" cy="392.5" r="2.75"/><circle cx="289.9" cy="393.7" r="2.75"/><circle cx="285.3" cy="394.4" r="2.75"/><circle cx="302.0" cy="399.9" r="2.75"/><circle cx="293.6" cy="407.2" r="2.75"/><circle cx="277.5" cy="406.3" r="2.75"/><circle cx="271.4" cy="397.6" r="2.75"/><circle cx="291.8" cy="400.7" r="2.75"/><circle cx="271.7" cy="399.4" r="2.75"/><circle cx="282.7" cy="396.9" r="2.75"/><circle cx="289.9" cy="396.5" r="2.75"/><circle cx="280.2" cy="400.2" r="2.75"/><circle cx="281.3" cy="400.8" r="2.75"/><circle cx="290.0" cy="404.1" r="2.75"/><circle cx="277.1" cy="401.3" r="2.75"/><circle cx="288.8" cy="398.1" r="2.75"/><circle cx="269.0" cy="404.3" r="2.75"/><circle cx="277.5" cy="398.3" r="2.75"/><circle cx="294.4" cy="400.8" r="2.75"/><circle cx="282.4" cy="402.5" r="2.75"/><circle cx="269.9" cy="401.9" r="2.75"/><circle cx="279.7" cy="396.3" r="2.75"/><circle cx="287.8" cy="403.9" r="2.75"/><circle cx="274.9" cy="401.2" r="2.75"/><circle cx="277.5" cy="402.2" r="2.75"/><circle cx="289.6" cy="397.5" r="2.75"/><circle cx="292.7" cy="401.4" r="2.75"/><circle cx="288.5" cy="402.9" r="2.75"/><circle cx="281.2" cy="402.3" r="2.75"/><circle cx="294.0" cy="396.4" r="2.75"/><circle cx="293.2" cy="399.0" r="2.75"/><circle cx="282.7" cy="396.8" r="2.75"/><circle cx="377.6" cy="370.0" r="2.75"/><circle cx="374.7" cy="369.1" r="2.75"/><circle cx="383.8" cy="383.3" r="2.75"/><circle cx="358.8" cy="389.8" r="2.75"/><circle cx="373.0" cy="391.0" r="2.75"/><circle cx="356.5" cy="396.2" r="2.75"/><circle cx="361.6" cy="395.9" r="2.75"/><circle cx="366.8" cy="398.7" r="2.75"/><circle cx="370.7" cy="399.3" r="2.75"/><circle cx="369.0" cy="402.1" r="2.75"/><circle cx="372.4" cy="403.3" r="2.75"/><circle cx="371.9" cy="406.1" r="2.75"/><circle cx="358.2" cy="403.3" r="2.75"/><circle cx="385.0" cy="388.5" r="2.75"/><circle cx="385.0" cy="398.7" r="2.75"/><circle cx="387.2" cy="395.3" r="2.75"/><circle cx="388.4" cy="402.1" r="2.75"/><circle cx="379.8" cy="402.7" r="2.75"/><circle cx="366.2" cy="403.3" r="2.75"/><circle cx="364" cy="401" r="2.75"/><circle cx="376" cy="400.5" r="2.75"/><circle cx="368" cy="396" r="2.75"/><circle cx="382" cy="400" r="2.75"/><circle cx="543.8" cy="270.4" r="2.75"/><circle cx="550.8" cy="270.4" r="2.75"/><circle cx="552.6" cy="270.4" r="2.75"/><circle cx="540.4" cy="369.1" r="2.75"/><circle cx="548.2" cy="369.7" r="2.75"/><circle cx="555.1" cy="383.7" r="2.75"/><circle cx="543.7" cy="389.6" r="2.75"/><circle cx="533.8" cy="391.6" r="2.75"/><circle cx="545.7" cy="392.4" r="2.75"/><circle cx="537.8" cy="394.1" r="2.75"/><circle cx="537.2" cy="397.0" r="2.75"/><circle cx="550.3" cy="395.3" r="2.75"/><circle cx="554.3" cy="396.4" r="2.75"/><circle cx="558.3" cy="397.6" r="2.75"/><circle cx="530.9" cy="401.5" r="2.75"/><circle cx="532.6" cy="403.8" r="2.75"/><circle cx="537.8" cy="402.1" r="2.75"/><circle cx="540.0" cy="399.3" r="2.75"/><circle cx="545.7" cy="401.0" r="2.75"/><circle cx="549.1" cy="399.8" r="2.75"/><circle cx="550.9" cy="403.8" r="2.75"/><circle cx="553.7" cy="401.5" r="2.75"/><circle cx="558.3" cy="405.5" r="2.75"/><circle cx="561.1" cy="403.8" r="2.75"/><circle cx="563.4" cy="406.1" r="2.75"/><circle cx="543.5" cy="400.4" r="2.75"/><circle cx="556.0" cy="400.4" r="2.75"/><circle cx="548.0" cy="402.1" r="2.75"/><circle cx="630.0" cy="270.4" r="2.75"/><circle cx="643.3" cy="270.4" r="2.75"/><circle cx="632.8" cy="404.6" r="2.75"/><circle cx="636.0" cy="396.6" r="2.75"/><circle cx="643.0" cy="398.7" r="2.75"/><circle cx="646.5" cy="392.7" r="2.75"/><circle cx="646.8" cy="388.8" r="2.75"/><circle cx="638" cy="396.2" r="2.75"/></g>
<g fill="#e41a1c" fill-opacity="0.68" stroke="#e41a1c" stroke-opacity="0.68" stroke-width="0.9"><circle cx="182.2" cy="270.4" r="2.75"/><circle cx="185.0" cy="270.4" r="2.75"/><circle cx="193.0" cy="270.4" r="2.75"/><circle cx="194.6" cy="270.4" r="2.75"/><circle cx="200.9" cy="270.4" r="2.75"/><circle cx="203.5" cy="270.4" r="2.75"/><circle cx="206" cy="270.4" r="2.75"/><circle cx="208.5" cy="270.4" r="2.75"/><circle cx="211" cy="270.4" r="2.75"/><circle cx="213.8" cy="270.4" r="2.75"/><circle cx="204.8" cy="292.4" r="2.75"/><circle cx="192.0" cy="300.4" r="2.75"/><circle cx="188.6" cy="326.5" r="2.75"/><circle cx="188.0" cy="343.1" r="2.75"/><circle cx="198.4" cy="341.5" r="2.75"/><circle cx="211.5" cy="340.1" r="2.75"/><circle cx="194.0" cy="353.0" r="2.75"/><circle cx="194.7" cy="356.0" r="2.75"/><circle cx="199.5" cy="360.8" r="2.75"/><circle cx="187.7" cy="366.3" r="2.75"/><circle cx="206.9" cy="373.2" r="2.75"/><circle cx="214.4" cy="378.2" r="2.75"/><circle cx="185.9" cy="381.8" r="2.75"/><circle cx="191.8" cy="382.1" r="2.75"/><circle cx="199.7" cy="388.2" r="2.75"/><circle cx="202.3" cy="389.9" r="2.75"/><circle cx="194.6" cy="391.5" r="2.75"/><circle cx="188.5" cy="393.0" r="2.75"/><circle cx="180.8" cy="394.5" r="2.75"/><circle cx="355" cy="270.5" r="2.75"/><circle cx="357.5" cy="270.5" r="2.75"/><circle cx="360" cy="270.5" r="2.75"/><circle cx="366.5" cy="270.5" r="2.75"/><circle cx="368" cy="270.5" r="2.75"/><circle cx="370" cy="270.5" r="2.75"/><circle cx="372" cy="270.5" r="2.75"/><circle cx="374" cy="270.5" r="2.75"/><circle cx="376" cy="270.5" r="2.75"/><circle cx="378" cy="270.5" r="2.75"/><circle cx="380" cy="270.5" r="2.75"/><circle cx="382" cy="270.5" r="2.75"/><circle cx="384" cy="270.5" r="2.75"/><circle cx="386" cy="270.5" r="2.75"/><circle cx="366.0" cy="292.5" r="2.75"/><circle cx="362.8" cy="300.7" r="2.75"/><circle cx="368.6" cy="326.7" r="2.75"/><circle cx="365.0" cy="339.9" r="2.75"/><circle cx="363.5" cy="341.7" r="2.75"/><circle cx="357.7" cy="343.0" r="2.75"/><circle cx="360.2" cy="352.8" r="2.75"/><circle cx="387.3" cy="355.6" r="2.75"/><circle cx="360.7" cy="360.9" r="2.75"/><circle cx="374.0" cy="366.3" r="2.75"/><circle cx="368.5" cy="373.1" r="2.75"/><circle cx="364.8" cy="378.0" r="2.75"/><circle cx="356.8" cy="382.2" r="2.75"/><circle cx="370.2" cy="382.2" r="2.75"/><circle cx="388.4" cy="386.0" r="2.75"/><circle cx="354.8" cy="393.6" r="2.75"/><circle cx="362.8" cy="390.2" r="2.75"/><circle cx="367.3" cy="391.3" r="2.75"/><circle cx="377.6" cy="394.1" r="2.75"/><circle cx="380.4" cy="393.0" r="2.75"/><circle cx="379.3" cy="396.4" r="2.75"/><circle cx="355.9" cy="404.4" r="2.75"/><circle cx="360.5" cy="405.5" r="2.75"/><circle cx="386.7" cy="399.8" r="2.75"/><circle cx="375" cy="397" r="2.75"/><circle cx="372" cy="392" r="2.75"/><circle cx="442.6" cy="270.5" r="2.75"/><circle cx="444.6" cy="270.5" r="2.75"/><circle cx="446.6" cy="270.5" r="2.75"/><circle cx="448.6" cy="270.5" r="2.75"/><circle cx="450.6" cy="270.5" r="2.75"/><circle cx="452.6" cy="270.5" r="2.75"/><circle cx="454.6" cy="270.5" r="2.75"/><circle cx="456.6" cy="270.5" r="2.75"/><circle cx="458.6" cy="270.5" r="2.75"/><circle cx="460.6" cy="270.5" r="2.75"/><circle cx="462.6" cy="270.5" r="2.75"/><circle cx="464.6" cy="270.5" r="2.75"/><circle cx="466.6" cy="270.5" r="2.75"/><circle cx="468.6" cy="270.5" r="2.75"/><circle cx="470.6" cy="270.5" r="2.75"/><circle cx="472.6" cy="270.5" r="2.75"/><circle cx="474.0" cy="270.5" r="2.75"/><circle cx="466.4" cy="292.5" r="2.75"/><circle cx="464.5" cy="300.7" r="2.75"/><circle cx="472.3" cy="326.7" r="2.75"/><circle cx="462.2" cy="340.1" r="2.75"/><circle cx="469.3" cy="341.7" r="2.75"/><circle cx="445.7" cy="342.7" r="2.75"/><circle cx="450.7" cy="352.6" r="2.75"/><circle cx="464.8" cy="355.8" r="2.75"/><circle cx="472.9" cy="360.8" r="2.75"/><circle cx="453.2" cy="366.7" r="2.75"/><circle cx="459.6" cy="373.3" r="2.75"/><circle cx="448.1" cy="378.3" r="2.75"/><circle cx="445.5" cy="382.0" r="2.75"/><circle cx="462.8" cy="382.4" r="2.75"/><circle cx="470.9" cy="386.0" r="2.75"/><circle cx="469.7" cy="388.0" r="2.75"/><circle cx="464.2" cy="390.0" r="2.75"/><circle cx="446.7" cy="392.4" r="2.75"/><circle cx="448.1" cy="394.8" r="2.75"/><circle cx="456.2" cy="391.4" r="2.75"/><circle cx="457.2" cy="395.4" r="2.75"/><circle cx="462.2" cy="395.4" r="2.75"/><circle cx="472.3" cy="396.0" r="2.75"/><circle cx="476.3" cy="394.8" r="2.75"/><circle cx="447.5" cy="398.5" r="2.75"/><circle cx="453.2" cy="399.5" r="2.75"/><circle cx="445.1" cy="401.5" r="2.75"/><circle cx="473.3" cy="400.1" r="2.75"/><circle cx="476.9" cy="400.1" r="2.75"/><circle cx="473.3" cy="404.1" r="2.75"/><circle cx="475.7" cy="405.5" r="2.75"/><circle cx="457.2" cy="397.4" r="2.75"/><circle cx="455.2" cy="394.4" r="2.75"/></g>
<g fill="#377eb8" fill-opacity="0.68" stroke="#377eb8" stroke-opacity="0.68" stroke-width="0.9"><circle cx="363.4" cy="270.5" r="2.75"/><circle cx="385.2" cy="270.5" r="2.75"/></g>
<line x1="112.0" y1="234.75" x2="315.65" y2="234.75" stroke="#b5b5b5" stroke-width="1"/>
<line x1="341.65" y1="234.75" x2="545.5" y2="234.75" stroke="#b5b5b5" stroke-width="1"/>
<g stroke="#111" stroke-width="1.05" stroke-linecap="butt"><line x1="328.65" y1="232.05" x2="328.65" y2="237.45"/><line x1="326.31" y1="233.40" x2="330.99" y2="236.10"/><line x1="330.99" y1="233.40" x2="326.31" y2="236.10"/></g>
<line x1="112.0" y1="243.2" x2="272.12" y2="243.2" stroke="#b5b5b5" stroke-width="1"/>
<line x1="298.12" y1="243.2" x2="458.45" y2="243.2" stroke="#b5b5b5" stroke-width="1"/>
<g stroke="#111" stroke-width="1.05" stroke-linecap="butt"><line x1="278.07" y1="240.50" x2="278.07" y2="245.90"/><line x1="275.74" y1="241.85" x2="280.41" y2="244.55"/><line x1="280.41" y1="241.85" x2="275.74" y2="244.55"/><line x1="285.12" y1="240.50" x2="285.12" y2="245.90"/><line x1="282.79" y1="241.85" x2="287.46" y2="244.55"/><line x1="287.46" y1="241.85" x2="282.79" y2="244.55"/><line x1="292.18" y1="240.50" x2="292.18" y2="245.90"/><line x1="289.84" y1="241.85" x2="294.51" y2="244.55"/><line x1="294.51" y1="241.85" x2="289.84" y2="244.55"/></g>
<line x1="112.0" y1="251.4" x2="228.65" y2="251.4" stroke="#b5b5b5" stroke-width="1"/>
<line x1="254.65" y1="251.4" x2="371.5" y2="251.4" stroke="#b5b5b5" stroke-width="1"/>
<g stroke="#111" stroke-width="1.05" stroke-linecap="butt"><line x1="234.60" y1="248.70" x2="234.60" y2="254.10"/><line x1="232.26" y1="250.05" x2="236.94" y2="252.75"/><line x1="236.94" y1="250.05" x2="232.26" y2="252.75"/><line x1="241.65" y1="248.70" x2="241.65" y2="254.10"/><line x1="239.31" y1="250.05" x2="243.99" y2="252.75"/><line x1="243.99" y1="250.05" x2="239.31" y2="252.75"/><line x1="248.70" y1="248.70" x2="248.70" y2="254.10"/><line x1="246.36" y1="250.05" x2="251.04" y2="252.75"/><line x1="251.04" y1="250.05" x2="246.36" y2="252.75"/></g>
<line x1="112.0" y1="259.7" x2="141.72" y2="259.7" stroke="#b5b5b5" stroke-width="1"/>
<line x1="167.72" y1="259.7" x2="197.65" y2="259.7" stroke="#b5b5b5" stroke-width="1"/>
<g stroke="#111" stroke-width="1.05" stroke-linecap="butt"><line x1="147.67" y1="257.00" x2="147.67" y2="262.40"/><line x1="145.34" y1="258.35" x2="150.01" y2="261.05"/><line x1="150.01" y1="258.35" x2="145.34" y2="261.05"/><line x1="154.72" y1="257.00" x2="154.72" y2="262.40"/><line x1="152.39" y1="258.35" x2="157.06" y2="261.05"/><line x1="157.06" y1="258.35" x2="152.39" y2="261.05"/><line x1="161.78" y1="257.00" x2="161.78" y2="262.40"/><line x1="159.44" y1="258.35" x2="164.11" y2="261.05"/><line x1="164.11" y1="258.35" x2="159.44" y2="261.05"/></g>
<text transform="translate(111.30,426.60) scale(1,1.04)" text-anchor="middle" fill="#4d4d4d" stroke="#4d4d4d" stroke-width="0.2" font-size="13.05">Benign</text>
<text transform="translate(111.30,440.50) scale(1,1.04)" text-anchor="middle" fill="#4d4d4d" stroke="#4d4d4d" stroke-width="0.2" font-size="13.05">(130)</text>
<text transform="translate(198.15,426.60) scale(1,1.04)" text-anchor="middle" fill="#4d4d4d" stroke="#4d4d4d" stroke-width="0.2" font-size="13.05">BOT &amp; invasive</text>
<text transform="translate(198.15,440.50) scale(1,1.04)" text-anchor="middle" fill="#4d4d4d" stroke="#4d4d4d" stroke-width="0.2" font-size="13.05">(141)</text>
<text transform="translate(285.05,426.60) scale(1,1.04)" text-anchor="middle" fill="#4d4d4d" stroke="#4d4d4d" stroke-width="0.2" font-size="13.05">BOT</text>
<text transform="translate(285.05,440.50) scale(1,1.04)" text-anchor="middle" fill="#4d4d4d" stroke="#4d4d4d" stroke-width="0.2" font-size="13.05">(41)</text>
<text transform="translate(372.00,426.60) scale(1,1.04)" text-anchor="middle" fill="#4d4d4d" stroke="#4d4d4d" stroke-width="0.2" font-size="13.05">Invasive</text>
<text transform="translate(372.00,440.50) scale(1,1.04)" text-anchor="middle" fill="#4d4d4d" stroke="#4d4d4d" stroke-width="0.2" font-size="13.05">(100)</text>
<text transform="translate(458.95,426.60) scale(1,1.04)" text-anchor="middle" fill="#4d4d4d" stroke="#4d4d4d" stroke-width="0.2" font-size="13.05">Invasive</text>
<text transform="translate(458.95,440.50) scale(1,1.04)" text-anchor="middle" fill="#4d4d4d" stroke="#4d4d4d" stroke-width="0.2" font-size="13.05">HGSOC</text>
<text transform="translate(458.95,454.40) scale(1,1.04)" text-anchor="middle" fill="#4d4d4d" stroke="#4d4d4d" stroke-width="0.2" font-size="13.05">(62)</text>
<text transform="translate(546.00,426.60) scale(1,1.04)" text-anchor="middle" fill="#4d4d4d" stroke="#4d4d4d" stroke-width="0.2" font-size="13.05">Invasive</text>
<text transform="translate(546.00,440.50) scale(1,1.04)" text-anchor="middle" fill="#4d4d4d" stroke="#4d4d4d" stroke-width="0.2" font-size="13.05">non−HGSOC</text>
<text transform="translate(546.00,454.40) scale(1,1.04)" text-anchor="middle" fill="#4d4d4d" stroke="#4d4d4d" stroke-width="0.2" font-size="13.05">(30)</text>
<text transform="translate(632.80,426.60) scale(1,1.04)" text-anchor="middle" fill="#4d4d4d" stroke="#4d4d4d" stroke-width="0.2" font-size="13.05">Metastasis</text>
<text transform="translate(632.80,440.50) scale(1,1.04)" text-anchor="middle" fill="#4d4d4d" stroke="#4d4d4d" stroke-width="0.2" font-size="13.05">(8)</text>
<text transform="translate(24.75,338.80) rotate(-90) scale(1,1.0)" text-anchor="middle" fill="#000" stroke="#000" stroke-width="0.05" font-size="12.1">Genome−wide z−score</text>
<text x="-0.3" y="257.7" fill="#000" font-size="15" font-weight="bold">b</text>
</svg>
</body></html>
